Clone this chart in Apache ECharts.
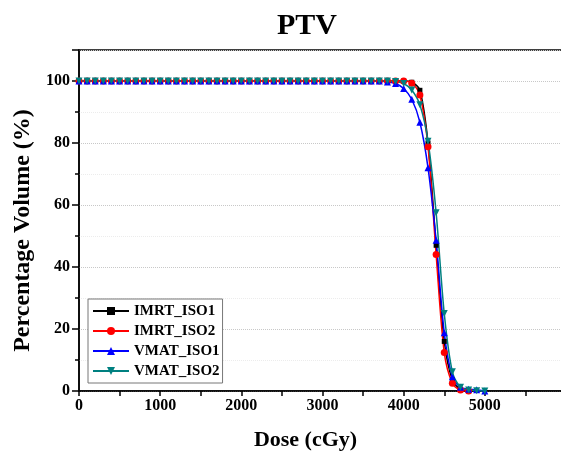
<!DOCTYPE html>
<html>
<head>
<meta charset="utf-8">
<title>PTV</title>
<script src="https://cdn.jsdelivr.net/npm/echarts@6/dist/echarts.min.js"></script>
<style>
	html, body { margin: 0; padding: 0; background: #fff; }
	#chart { width: 561px; height: 455px; }
</style>
</head>
<body>
<div id="chart"></div>
<script>
	// dose points (cGy), one marker every 100 cGy
	var doses = [0, 100, 200, 300, 400, 500, 600, 700, 800, 900,
		1000, 1100, 1200, 1300, 1400, 1500, 1600, 1700, 1800, 1900,
		2000, 2100, 2200, 2300, 2400, 2500, 2600, 2700, 2800, 2900,
		3000, 3100, 3200, 3300, 3400, 3500, 3600, 3700, 3800, 3900,
		4000, 4100, 4200, 4300, 4400, 4500, 4600, 4700, 4800, 4900, 5000]

	// volume (%)
	var imrtIso1 = [100, 100, 100, 100, 100, 100, 100, 100, 100, 100,
		100, 100, 100, 100, 100, 100, 100, 100, 100, 100,
		100, 100, 100, 100, 100, 100, 100, 100, 100, 100,
		100, 100, 100, 100, 100, 100, 100, 100, 100, 100,
		100, 99.6, 97, 80, 47, 16, 3.5, 0.6, 0]
	var imrtIso2 = [100, 100, 100, 100, 100, 100, 100, 100, 100, 100,
		100, 100, 100, 100, 100, 100, 100, 100, 100, 100,
		100, 100, 100, 100, 100, 100, 100, 100, 100, 100,
		100, 100, 100, 100, 100, 100, 100, 100, 100, 100,
		100, 99.3, 95.5, 78.8, 44, 12.4, 2.5, 0.3, 0]
	var vmatIso1 = [100, 100, 100, 100, 100, 100, 100, 100, 100, 100,
		100, 100, 100, 100, 100, 100, 100, 100, 100, 100,
		100, 100, 100, 100, 100, 100, 100, 100, 100, 100,
		100, 100, 100, 100, 100, 100, 100, 100, 99.7, 99.2,
		97.6, 94.1, 86.7, 72, 48.6, 18.8, 4.6, 1.2, 0.6, 0.4, 0]
	var vmatIso2 = [100, 100, 100, 100, 100, 100, 100, 100, 100, 100,
		100, 100, 100, 100, 100, 100, 100, 100, 100, 100,
		100, 100, 100, 100, 100, 100, 100, 100, 100, 100,
		100, 100, 100, 100, 100, 100, 100, 100, 100, 99.8,
		99.2, 97.1, 92.3, 80.6, 57.5, 25, 6.2, 1.2, 0.3, 0.1, 0]

	var seriesNames = ['IMRT_ISO1', 'IMRT_ISO2', 'VMAT_ISO1', 'VMAT_ISO2']
	var xTicks = [0, 1000, 2000, 3000, 4000, 5000]
	var yTicks = [0, 20, 40, 60, 80, 100]

	var font = '"Liberation Serif", "Times New Roman", serif'

	function pairs(vals) {
		return vals.map(function (v, i) { return [doses[i], v] })
	}

	function makeSeries(name, vals, color, symbol) {
		return {
			name: name,
			type: 'line',
			data: pairs(vals),
			smooth: 0.3,
			symbol: symbol,
			symbolSize: symbol === 'rect' ? 5 : 7,
			lineStyle: { color: color, width: 1.5 },
			itemStyle: { color: color },
			animation: false
		}
	}

	var chart = echarts.init(document.getElementById('chart'))
	var option = {
		backgroundColor: '#fff',
		title: {
			text: 'PTV',
			left: 302,
			textAlign: 'center',
			top: 6,
			textStyle: { fontFamily: font, fontSize: 30, fontWeight: 'bold', color: '#000' }
		},
		legend: {
			orient: 'vertical',
			left: 88,
			top: 299,
			padding: [4, 3, 4, 4],
			itemWidth: 36,
			itemHeight: 10,
			itemGap: 4,
			backgroundColor: '#fff',
			borderColor: '#777',
			borderWidth: 1,
			textStyle: { fontFamily: font, fontSize: 15, fontWeight: 'bold', color: '#000', lineHeight: 16 },
			data: seriesNames
		},
		grid: {
			left: 79,
			top: 50,
			width: 487,
			height: 341,
			outerBoundsMode: 'none',
			show: true,
			borderColor: '#000',
			borderWidth: 1.5
		},
		xAxis: {
			type: 'value',
			min: 0,
			max: 6000,
			interval: 1000,
			name: 'Dose (cGy)',
			nameLocation: 'middle',
			nameGap: 38,
			nameTextStyle: { fontFamily: font, fontSize: 22, fontWeight: 'bold', color: '#000', padding: [0, 34, 0, 0] },
			axisLine: { lineStyle: { color: '#000', width: 1.5 } },
			axisTick: { show: true, length: 5, lineStyle: { color: '#000', width: 1.5 } },
			minorTick: { show: true, splitNumber: 2, length: 5, lineStyle: { color: '#000', width: 1.5 } },
			axisLabel: {
				fontFamily: font, fontSize: 16, fontWeight: 'bold', color: '#000', margin: 7,
				formatter: function (v) { return xTicks.indexOf(v) >= 0 ? String(v) : '' }
			},
			splitLine: { show: false }
		},
		yAxis: {
			type: 'value',
			min: 0,
			max: 110,
			interval: 20,
			name: 'Percentage Volume (%)',
			nameLocation: 'middle',
			nameGap: 44,
			nameTextStyle: { fontFamily: font, fontSize: 24, fontWeight: 'bold', color: '#000', padding: [0, 20, 0, 0] },
			axisLine: { show: true, lineStyle: { color: '#000', width: 1.5 } },
			axisTick: { show: true, length: 7, lineStyle: { color: '#000', width: 1.5 } },
			minorTick: { show: true, splitNumber: 2, length: 4, lineStyle: { color: '#000', width: 1.5 } },
			axisLabel: {
				fontFamily: font, fontSize: 16, fontWeight: 'bold', color: '#000', margin: 9,
				formatter: function (v) { return yTicks.indexOf(v) >= 0 ? String(v) : '' }
			},
			splitLine: { show: true, lineStyle: { type: 'dotted', color: '#c8c8c8', width: 1 } },
			minorSplitLine: { show: true, lineStyle: { type: 'dotted', color: '#ececec', width: 1 } }
		},
		series: [
			makeSeries(seriesNames[0], imrtIso1, '#000000', 'rect'),
			makeSeries(seriesNames[1], imrtIso2, '#ff0000', 'circle'),
			makeSeries(seriesNames[2], vmatIso1, '#0000ff', 'triangle'),
			makeSeries(seriesNames[3], vmatIso2, '#008080', 'path://M0,0 L10,0 L5,9 Z')
		]
	}
	chart.setOption(option)
</script>
</body>
</html>
